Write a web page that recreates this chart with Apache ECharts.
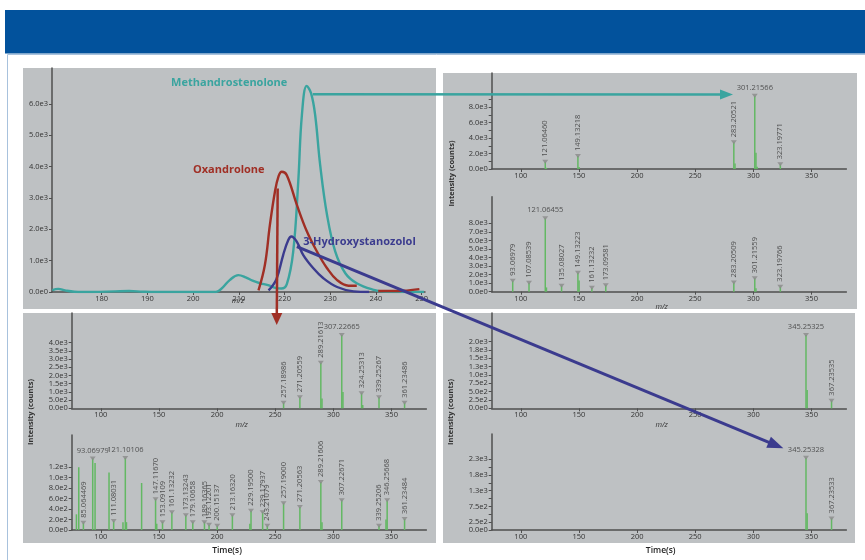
<!DOCTYPE html>
<html>
<head>
<meta charset="utf-8">
<script src="https://cdn.jsdelivr.net/npm/echarts@6/dist/echarts.min.js"></script>
<style>
  html, body { margin: 0; padding: 0; background: #ffffff; }
  #c { width: 865px; height: 560px; }
</style>
</head>
<body>
<div id="c"></div>
<script>
// ---- Chromatogram traces: [retention time, counts] ----
const methandrostenoloneTrace = [
  [169.2, 60], [170.5, 100], [172, 50], [174, 10], [178, 0], [183, 20], [186, 30], [189, 10],
  [192, 0], [205, 0], [206.5, 150], [208, 380], [209.9, 540], [211.5, 470], [213, 360],
  [214.6, 280], [216.4, 220], [218, 130], [219.3, 110], [220.5, 250], [221.9, 1290],
  [223, 3520], [223.8, 5650], [224.85, 6580], [225.8, 6350], [226.7, 5650], [227.8, 4050],
  [229.3, 2460], [231.1, 1290], [233.3, 600], [235.8, 280], [239.5, 70], [242, 10], [250.5, 0]
];
const oxandroloneTrace = [
  [214.3, 50], [215.7, 860], [216.8, 2140], [217.9, 3200], [218.7, 3700], [219.4, 3840],
  [220.5, 3730], [222.7, 2780], [224.9, 1930], [227.1, 1290], [229.3, 760], [231.5, 380],
  [234, 200], [235.8, 200]
];
const oxandroloneTail = [[240.5, 30], [246, 40], [249.5, 90]];
const hydroxystanozololTrace = [
  [216.5, 50], [218.2, 400], [219.7, 1180], [220.8, 1650], [221.5, 1770], [222.7, 1600],
  [224.1, 1180], [226.3, 760], [228.5, 440], [231.5, 160], [235.1, 20], [238.5, 0]
];

// ---- Axis ticks ----
const timeTicks = [180, 190, 200, 210, 220, 230, 240, 250];
const chromCountTicks = [0, 1000, 2000, 3000, 4000, 5000, 6000];
const mzTicks = [100, 150, 200, 250, 300, 350];

// ---- Mass spectra: labelled peaks [m/z label, counts], other lines [m/z, counts] ----
const methandrostenolonePeaks = [
  ['121.06460', 950], ['149.13218', 1690], ['283.20521', 3460], ['301.21566', 9500], ['323.19771', 600]
];
const methandrostenoloneLines = [[122.07, 150], [150.14, 250], [284.21, 700], [302.22, 2100], [303.2, 300]];

const methandrostenoloneFragPeaks = [
  ['93.06979', 1290], ['107.08539', 1060], ['121.06455', 8580], ['135.08027', 700], ['149.13223', 2220],
  ['161.13232', 470], ['173.09581', 740], ['283.20509', 1090], ['301.21559', 1560], ['323.19766', 590]
];
const methandrostenoloneFragLines = [[150.14, 1300], [122.07, 500], [302.22, 400]];

const oxandrolonePeaks = [
  ['257.18986', 340], ['271.20559', 670], ['289.21613', 2780], ['307.22665', 4470],
  ['324.25313', 910], ['339.25267', 670], ['361.23486', 340]
];
const oxandroloneLines = [[290.22, 600], [308.23, 1000], [325.26, 200]];

const oxandroloneFragPeaks = [
  ['85.064469', 140], ['93.06979', 1370], ['111.08031', 170], ['121.10106', 1380], ['147.11670', 590],
  ['153.09109', 150], ['161.13232', 340], ['173.13243', 280], ['179.10658', 150], ['189.16365', 150],
  ['193.12201', 100], ['200.15137', 80], ['213.16320', 280], ['229.19500', 370], ['239.17937', 340],
  ['243.21079', 80], ['257.19000', 510], ['271.20563', 440], ['289.21606', 920], ['307.22671', 570],
  ['339.25206', 80], ['346.25668', 570], ['361.23484', 210]
];
const oxandroloneFragLines = [
  [79.05, 300], [81.07, 1200], [95.09, 1280], [107.09, 1100], [119.09, 150], [122.1, 150],
  [135.12, 900], [148.12, 120], [228.2, 120], [290.22, 150], [345.25, 200]
];

const stanozololPeaks = [['345.25325', 2200], ['367.23535', 230]];
const stanozololLines = [[346.26, 550]];
const stanozololFragPeaks = [['345.25328', 2300], ['367.23533', 370]];
const stanozololFragLines = [[346.26, 530]];

// ---- Styling ----
const FONT = '"Open Sans", "Liberation Sans", sans-serif';
const AXIS_COLOR = '#4f4f4f';
const PANEL = '#bec1c3';
const TEAL = '#3aa49f';
const RED = '#a02f25';
const INDIGO = '#3b3b8e';
const STEM = '#63b863';

const expFmt = v => Number(v).toExponential(1).replace('+', '');

const grids = [
  { left: 52, top: 68, width: 373, height: 224 },      // chromatogram
  { left: 491.7, top: 73, width: 354.7, height: 96 },   // methandrostenolone precursor
  { left: 491.7, top: 196.7, width: 354.7, height: 95 },// methandrostenolone fragments
  { left: 71.7, top: 313, width: 354.7, height: 95.3 }, // oxandrolone precursor
  { left: 71.7, top: 435, width: 354.7, height: 95 },   // oxandrolone fragments
  { left: 491.7, top: 313, width: 354.7, height: 95.3 },// 3-hydroxystanozolol precursor
  { left: 491.7, top: 434, width: 354.7, height: 96 }   // 3-hydroxystanozolol fragments
];

function xAxisCfg(gi, min, max, ticks) {
  return {
    type: 'value', gridIndex: gi, min, max,
    axisLine: { show: true, onZero: false, lineStyle: { color: AXIS_COLOR, width: 1.5 } },
    axisTick: { show: true, customValues: ticks, length: 3, lineStyle: { color: AXIS_COLOR } },
    axisLabel: { customValues: ticks, fontSize: 7.5, color: '#333', margin: 3, fontFamily: FONT },
    splitLine: { show: false }
  };
}
function yAxisCfg(gi, max, labels, ticks) {
  return {
    type: 'value', gridIndex: gi, min: 0, max,
    axisLine: { show: true, onZero: false, lineStyle: { color: AXIS_COLOR, width: 1.5 } },
    axisTick: { show: true, customValues: ticks || labels, length: 3, lineStyle: { color: AXIS_COLOR } },
    axisLabel: { customValues: labels, formatter: expFmt, fontSize: 7.5, color: '#333', margin: 4, fontFamily: FONT },
    splitLine: { show: false }
  };
}
const range = (a, b, s) => { const r = []; for (let v = a; v <= b + 1e-9; v += s) r.push(v); return r; };

const spectra = [
  { grid: 1, peaks: methandrostenolonePeaks, lines: methandrostenoloneLines, yMax: 12450, yLabels: range(0, 8000, 2000), yTicks: range(0, 9000, 1000) },
  { grid: 2, peaks: methandrostenoloneFragPeaks, lines: methandrostenoloneFragLines, yMax: 11110, yLabels: range(0, 8000, 1000) },
  { grid: 3, peaks: oxandrolonePeaks, lines: oxandroloneLines, yMax: 5810, yLabels: range(0, 4000, 500) },
  { grid: 4, peaks: oxandroloneFragPeaks, lines: oxandroloneFragLines, yMax: 1818, yLabels: range(0, 1200, 200) },
  { grid: 5, peaks: stanozololPeaks, lines: stanozololLines, yMax: 2860, yLabels: range(0, 2000, 250) },
  { grid: 6, peaks: stanozololFragPeaks, lines: stanozololFragLines, yMax: 3057, yLabels: [0, 250, 750, 1250, 1750, 2250], yTicks: range(0, 2250, 250) }
];

const xAxes = [xAxisCfg(0, 169.13, 250.73, timeTicks)];
const yAxes = [yAxisCfg(0, 7150, chromCountTicks)];
spectra.forEach(s => {
  xAxes.push(xAxisCfg(s.grid, 75, 380, mzTicks));
  yAxes.push(yAxisCfg(s.grid, s.yMax, s.yLabels, s.yTicks));
});

const traceSeries = (data, color) => ({
  type: 'line', xAxisIndex: 0, yAxisIndex: 0, data, smooth: 0.4, showSymbol: false,
  lineStyle: { color, width: 2.4 }, z: 3
});

const series = [
  traceSeries(methandrostenoloneTrace, TEAL),
  traceSeries(hydroxystanozololTrace, INDIGO),
  traceSeries(oxandroloneTrace, RED),
  traceSeries(oxandroloneTail, RED)
];

const vLabel = { show: true, position: 'top', distance: 3, rotate: 90, align: 'left', verticalAlign: 'middle',
  fontSize: 7.5, color: '#333', fontFamily: FONT };
const hLabel = { show: true, position: 'top', distance: 2, rotate: 0, align: 'center', verticalAlign: 'bottom',
  fontSize: 7.5, color: '#333', fontFamily: FONT };

spectra.forEach(s => {
  const peakMax = Math.max(...s.peaks.map(p => p[1]));
  const stems = s.peaks.map(p => [parseFloat(p[0]), p[1]]).concat(s.lines);
  series.push({
    type: 'custom', xAxisIndex: s.grid, yAxisIndex: s.grid, data: stems, z: 3,
    renderItem: (params, api) => {
      const top = api.coord([api.value(0), api.value(1)]);
      const base = api.coord([api.value(0), 0]);
      return { type: 'line', shape: { x1: top[0], y1: top[1], x2: base[0], y2: base[1] },
        style: { stroke: STEM, lineWidth: 1.5 } };
    }
  });
  series.push({
    type: 'scatter', xAxisIndex: s.grid, yAxisIndex: s.grid, z: 4,
    symbol: 'triangle', symbolRotate: 180, symbolSize: [6, 4],
    itemStyle: { color: '#8a8a8a' },
    label: { formatter: p => p.name },
    data: s.peaks.map(p => ({
      value: [parseFloat(p[0]), p[1]], name: p[0],
      label: p[1] > 0.8 * peakMax ? hLabel : vLabel
    }))
  });
});

const chart = echarts.init(document.getElementById('c'));
chart.setOption({
  backgroundColor: '#ffffff',
  animation: false,
  grid: grids,
  xAxis: xAxes,
  yAxis: yAxes,
  series
});

// ---- Frame, panels, titles and arrows ----
const px = (g, p) => chart.convertToPixel({ gridIndex: g }, p);

function arrow(a, b, color, lw, hl, hw) {
  const dx = b[0] - a[0], dy = b[1] - a[1], L = Math.hypot(dx, dy);
  const ux = dx / L, uy = dy / L, nx = -uy, ny = ux;
  const bx = b[0] - ux * hl, by = b[1] - uy * hl;
  return [
    { type: 'line', z: 50, shape: { x1: a[0], y1: a[1], x2: bx + ux, y2: by + uy },
      style: { stroke: color, lineWidth: lw } },
    { type: 'polygon', z: 51, shape: { points: [[b[0], b[1]], [bx + nx * hw / 2, by + ny * hw / 2], [bx - nx * hw / 2, by - ny * hw / 2]] },
      style: { fill: color } }
  ];
}
function label(text, pos, color, size, weight, extra) {
  return Object.assign({ type: 'text', z: 60, x: pos[0], y: pos[1],
    style: { text, fill: color, font: `${weight} ${size}px ${FONT}`, align: 'center', verticalAlign: 'middle' } }, extra || {});
}
const rect = (x, y, w, h, fill, z) => ({ type: 'rect', z: z, silent: true, shape: { x, y, width: w, height: h }, style: { fill } });

const graphics = [
  rect(5, 10, 860, 43.5, '#02529c', -10),
  { type: 'rect', z: -10, silent: true, shape: { x: 7.5, y: 54.5, width: 870, height: 520 }, style: { fill: 'none', stroke: '#a8c2dd', lineWidth: 1 } },
  rect(23, 68, 413, 241, PANEL, -9),
  rect(443, 73, 414, 236, PANEL, -9),
  rect(23, 313, 413, 230, PANEL, -9),
  rect(443, 313, 412, 230, PANEL, -9),

  label('m/z', [238, 300.5], '#333', 7.5, 'italic', {}),
  label('m/z', [661.7, 306.5], '#333', 7.5, 'italic', {}),
  label('m/z', [241.7, 425], '#333', 7.5, 'italic', {}),
  label('m/z', [661.7, 425], '#333', 7.5, 'italic', {}),
  label('Time(s)', [227, 550.5], '#222', 8.5, '600', {}),
  label('Time(s)', [660.7, 550.5], '#222', 8.5, '600', {}),
  label('Intensity (counts)', [452, 173.5], '#333', 7.5, 'bold', { rotation: Math.PI / 2 }),
  label('Intensity (counts)', [31, 412], '#333', 7.5, 'bold', { rotation: Math.PI / 2 }),
  label('Intensity (counts)', [451, 412], '#333', 7.5, 'bold', { rotation: Math.PI / 2 }),

  label('Methandrostenolone', px(0, [207.9, 6690]), TEAL, 11, 'bold'),
  label('Oxandrolone', px(0, [207.8, 3890]), RED, 11, 'bold'),
  label('3-Hydroxystanozolol', px(0, [236.4, 1600]), INDIGO, 11, 'bold')
]
  .concat(arrow(px(0, [226.2, 6310]), px(1, [282.5, 9670]), TEAL, 2.5, 13, 10))
  .concat(arrow(px(0, [218.5, 3300]), px(3, [251.3, 5080]), RED, 2.5, 12, 11))
  .concat(arrow(px(0, [222.7, 1450]), px(6, [325.8, 2600]), INDIGO, 3, 16, 12));

chart.setOption({ graphic: { elements: graphics } });
</script>
</body>
</html>
